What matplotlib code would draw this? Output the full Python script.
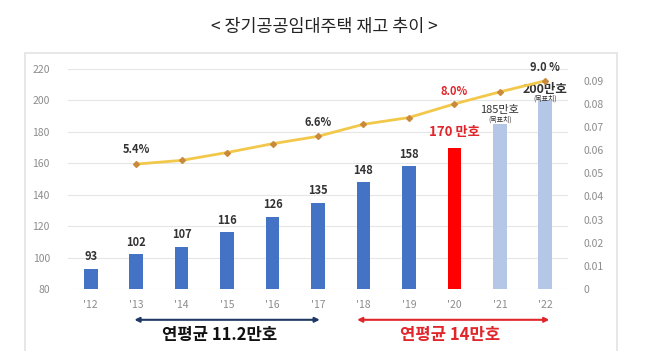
import matplotlib
matplotlib.use('Agg')
import matplotlib.pyplot as plt
from matplotlib.patches import Rectangle

plt.rcParams['font.family'] = ['Noto Sans CJK KR', 'DejaVu Sans']

# chart data
years = ["'12", "'13", "'14", "'15", "'16", "'17", "'18", "'19", "'20", "'21", "'22"]
stock = [93, 102, 107, 116, 126, 135, 148, 158, 170, 185, 200]
ratio_years = [1, 2, 3, 4, 5, 6, 7, 8, 9, 10]
ratio = [0.054, 0.0556, 0.059, 0.0628, 0.066, 0.0712, 0.0741, 0.080, 0.0852, 0.090]
left_ticks = [80, 100, 120, 140, 160, 180, 200, 220]
right_ticks = [0, 0.01, 0.02, 0.03, 0.04, 0.05, 0.06, 0.07, 0.08, 0.09]

blue = '#4472C4'
red = '#FF0000'
light = '#B4C7E7'
bar_colors = [blue] * 8 + [red] + [light] * 2
gray = '#8C8C8C'
dark = '#333333'

fig = plt.figure(figsize=(6.58, 3.51), dpi=100)
fig.patches.append(Rectangle((25 / 658, -0.05), 592 / 658, 1 - 53 / 351 + 0.05,
                             transform=fig.transFigure, fill=False,
                             edgecolor='#E3E3E3', lw=1.2))
fig.text(324 / 658, 1 - 27 / 351, '< 장기공공임대주택 재고 추이 >', ha='center', va='center',
         fontsize=12.5, color='#222222')

ax = fig.add_axes([68 / 658, 1 - 289 / 351, 500 / 658, 220 / 351])
x = list(range(len(years)))
ax.bar(x, stock, width=0.3, color=bar_colors, bottom=0, zorder=2)
ax.set_ylim(80, 220)
ax.set_xlim(-0.5, 10.5)
ax.set_yticks(left_ticks)
ax.set_xticks(x)
ax.set_xticklabels(years)
ax.grid(axis='y', color='#E6E6E6', lw=0.8, zorder=0)
for s in ax.spines.values():
    s.set_visible(False)
ax.tick_params(length=0, labelsize=7.5, labelcolor=gray)
ax.tick_params(axis='y', pad=13)
ax.tick_params(axis='x', pad=8)

# bar value labels
for i in range(8):
    ax.annotate(str(stock[i]), (i, stock[i]), xytext=(0, 4), textcoords='offset points',
                ha='center', va='bottom', fontsize=8, fontweight='bold', color=dark)
ax.annotate('170 만호', (8, stock[8]), xytext=(0, 6), textcoords='offset points',
            ha='center', va='bottom', fontsize=9.5, fontweight='bold', color='#E0262B')
ax.annotate('185만호', (9, stock[9]), xytext=(0, 10), textcoords='offset points',
            ha='center', va='center', fontsize=8, color=dark)
ax.annotate('(목표치)', (9, stock[9]), xytext=(0, 3), textcoords='offset points',
            ha='center', va='center', fontsize=5, color=dark)
ax.annotate('200만호', (10, stock[10]), xytext=(0, 8), textcoords='offset points',
            ha='center', va='center', fontsize=9, fontweight='bold', color=dark, zorder=5)
ax.annotate('(목표치)', (10, stock[10]), xytext=(0, 1.5), textcoords='offset points',
            ha='center', va='center', fontsize=5, color=dark)

# ratio line on right axis
ax2 = ax.twinx()
ax2.plot(ratio_years, ratio, color='#F2C84B', lw=2, zorder=3)
ax2.plot(ratio_years, ratio, ls='none', marker='D', ms=3, color='#C98A3C', zorder=4)
ax2.set_ylim(0, 0.0951)
ax2.set_yticks(right_ticks)
ax2.set_yticklabels(['0'] + ['%.2f' % t for t in right_ticks[1:]])
for s in ax2.spines.values():
    s.set_visible(False)
ax2.tick_params(length=0, labelsize=7.5, labelcolor=gray, pad=11)

ax2.annotate('5.4%', (1, ratio[0]), xytext=(0, 6), textcoords='offset points',
             ha='center', va='bottom', fontsize=8, fontweight='bold', color=dark)
ax2.annotate('6.6%', (5, ratio[4]), xytext=(0, 5), textcoords='offset points',
             ha='center', va='bottom', fontsize=8, fontweight='bold', color=dark)
ax2.annotate('8.0%', (8, ratio[7]), xytext=(0, 4), textcoords='offset points',
             ha='center', va='bottom', fontsize=8, fontweight='bold', color='#E0262B')
ax2.annotate('9.0 %', (10, ratio[9]), xytext=(0, 5), textcoords='offset points',
             ha='center', va='bottom', fontsize=8, fontweight='bold', color=dark)

# period arrows under the axis
ax.annotate('', xy=(0.9, -0.14), xytext=(5.1, -0.14), xycoords=('data', 'axes fraction'),
            textcoords=('data', 'axes fraction'),
            arrowprops=dict(arrowstyle='<|-|>', color='#1F3864', lw=1.5, mutation_scale=7))
ax.annotate('', xy=(5.8, -0.14), xytext=(10.15, -0.14), xycoords=('data', 'axes fraction'),
            textcoords=('data', 'axes fraction'),
            arrowprops=dict(arrowstyle='<|-|>', color='#E0262B', lw=1.5, mutation_scale=7))
ax.text(2.83, -0.21, '연평균 11.2만호', transform=ax.get_xaxis_transform(),
        ha='center', va='center', fontsize=12, fontweight='bold', color='#111111')
ax.text(7.9, -0.21, '연평균 14만호', transform=ax.get_xaxis_transform(),
        ha='center', va='center', fontsize=12, fontweight='bold', color='#E0262B')

fig.savefig('out.png', dpi=100)
